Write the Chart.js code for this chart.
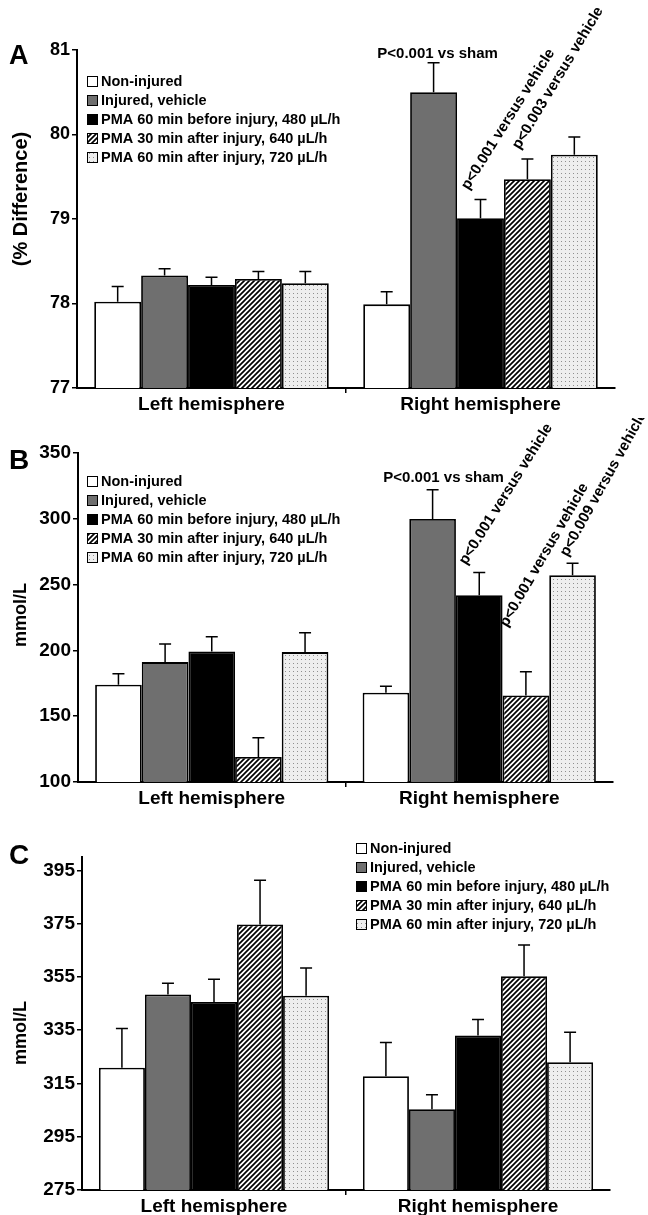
<!DOCTYPE html>
<html>
<head>
<meta charset="utf-8">
<script src="https://cdn.jsdelivr.net/npm/chart.js@4"></script>
<style>
  body { margin: 0; background: #fff; }
  #page { position: relative; width: 648px; height: 1215px; }
  .panel { position: absolute; left: 0; width: 648px; }
</style>
</head>
<body>
<div id="page">
  <div class="panel" style="top:0;height:418px"><canvas id="panelA"></canvas></div>
  <div class="panel" style="top:418px;height:400px"><canvas id="panelB"></canvas></div>
  <div class="panel" style="top:818px;height:397px"><canvas id="panelC"></canvas></div>
</div>
<script>
const HEMISPHERES = ["Left hemisphere", "Right hemisphere"];
const SERIES_LABELS = [
  "Non-injured",
  "Injured, vehicle",
  "PMA 60 min before injury, 480 µL/h",
  "PMA 30 min after injury, 640 µL/h",
  "PMA 60 min after injury, 720 µL/h",
];

// A: water content, % difference  [left, right]
const A_NON_INJURED = [78.02, 77.99];
const A_VEHICLE = [78.33, 80.5];
const A_PMA_BEFORE = [78.22, 79.01];
const A_PMA_30_AFTER = [78.29, 79.47];
const A_PMA_60_AFTER = [78.24, 79.76];
const A_SEM = [[0.18, 0.15], [0.08, 0.35], [0.09, 0.22], [0.09, 0.24], [0.14, 0.21]];
const A_TICKS = [77, 78, 79, 80, 81];

// B: mmol/L
const B_NON_INJURED = [173.9, 167.8];
const B_VEHICLE = [191.1, 299.8];
const B_PMA_BEFORE = [199.2, 241.9];
const B_PMA_30_AFTER = [119.0, 165.7];
const B_PMA_60_AFTER = [198.7, 257.1];
const B_SEM = [[8.4, 5.0], [13.7, 22.3], [11.2, 17.3], [14.7, 18.1], [14.8, 9.1]];
const B_TICKS = [100, 150, 200, 250, 300, 350];

// C: mmol/L
const C_NON_INJURED = [320.9, 317.7];
const C_VEHICLE = [348.4, 305.3];
const C_PMA_BEFORE = [345.6, 333.0];
const C_PMA_30_AFTER = [374.7, 355.2];
const C_PMA_60_AFTER = [347.9, 323.0];
const C_SEM = [[14.7, 12.7], [4.2, 5.5], [8.5, 6.0], [16.6, 11.8], [10.4, 11.2]];
const C_TICKS = [275, 295, 315, 335, 355, 375, 395];

const FONT = "'Liberation Sans', Arial, Helvetica, sans-serif";
Chart.defaults.font.family = FONT;
Chart.defaults.font.weight = "bold";
Chart.defaults.color = "#000";

function hatchPattern() {
  const c = document.createElement("canvas");
  c.width = 5;
  c.height = 5;
  const g = c.getContext("2d");
  g.fillStyle = "#fff";
  g.fillRect(0, 0, 5, 5);
  g.strokeStyle = "#000";
  g.lineWidth = 1.7;
  g.beginPath();
  g.moveTo(-1, 6);
  g.lineTo(6, -1);
  g.moveTo(-1, 1);
  g.lineTo(1, -1);
  g.moveTo(4, 6);
  g.lineTo(6, 4);
  g.stroke();
  return g.createPattern(c, "repeat");
}

function dotPattern() {
  const c = document.createElement("canvas");
  c.width = 4;
  c.height = 4;
  const g = c.getContext("2d");
  g.fillStyle = "#eeeeee";
  g.fillRect(0, 0, 4, 4);
  g.fillStyle = "#8f8f8f";
  g.fillRect(1, 1, 1, 1);
  return g.createPattern(c, "repeat");
}

const FILLS = ["#ffffff", "#6f6f6f", "#000000", hatchPattern(), dotPattern()];

const errorBars = {
  id: "errorBars",
  afterDatasetsDraw(chart) {
    const { ctx } = chart;
    const y = chart.scales.y;
    ctx.save();
    ctx.strokeStyle = "#000";
    ctx.lineWidth = 1.5;
    chart.data.datasets.forEach((ds, i) => {
      chart.getDatasetMeta(i).data.forEach((bar, j) => {
        const top = y.getPixelForValue(ds.data[j] + ds.sem[j]);
        ctx.beginPath();
        ctx.moveTo(bar.x, bar.y);
        ctx.lineTo(bar.x, top);
        ctx.moveTo(bar.x - 6, top);
        ctx.lineTo(bar.x + 6, top);
        ctx.stroke();
      });
    });
    ctx.restore();
  },
};

const panelText = {
  id: "panelText",
  afterDraw(chart, args, opts) {
    const { ctx } = chart;
    const y = chart.scales.y;
    ctx.save();
    ctx.fillStyle = "#000";

    // panel letter
    ctx.font = `bold ${opts.letterSize}px ${FONT}`;
    ctx.textAlign = "left";
    ctx.textBaseline = "alphabetic";
    ctx.fillText(opts.letter, opts.letterX, opts.letterY);

    // y title
    ctx.save();
    ctx.translate(21, opts.titleY);
    ctx.rotate(-Math.PI / 2);
    ctx.font = `bold ${opts.titleSize}px ${FONT}`;
    ctx.textAlign = "center";
    ctx.textBaseline = "middle";
    ctx.fillText(opts.title, 0, 0);
    ctx.restore();

    // legend
    ctx.font = `bold 14.5px ${FONT}`;
    ctx.textBaseline = "middle";
    chart.data.datasets.forEach((ds, i) => {
      const ry = opts.legendY + i * 19;
      ctx.fillStyle = ds.backgroundColor;
      ctx.fillRect(opts.legendX, ry - 5, 10, 10);
      ctx.strokeStyle = "#000";
      ctx.lineWidth = 1;
      ctx.strokeRect(opts.legendX + 0.5, ry - 4.5, 10, 10);
      ctx.fillStyle = "#000";
      ctx.fillText(ds.label, opts.legendX + 14, ry + 1);
    });

    // significance notes
    ctx.font = `bold 15px ${FONT}`;
    for (const note of opts.notes || []) {
      const ds = chart.data.datasets[note.ds];
      const bar = chart.getDatasetMeta(note.ds).data[note.cat];
      const top = y.getPixelForValue(ds.data[note.cat] + ds.sem[note.cat]);
      ctx.save();
      ctx.translate(bar.x + note.dx, top + note.dy);
      ctx.rotate((note.angle * Math.PI) / 180);
      ctx.textAlign = note.angle ? "left" : "center";
      ctx.textBaseline = "alphabetic";
      ctx.fillText(note.text, 0, 0);
      ctx.restore();
    }
    ctx.restore();
  },
};

function makePanel(id, cfg) {
  const datasets = cfg.series.map((values, i) => ({
    label: SERIES_LABELS[i],
    data: values,
    sem: cfg.sem[i],
    backgroundColor: FILLS[i],
    borderColor: "#000",
    borderWidth: 1.8,
    barPercentage: 1,
    categoryPercentage: 0.872,
  }));
  return new Chart(document.getElementById(id), {
    type: "bar",
    data: { labels: HEMISPHERES, datasets },
    options: {
      responsive: true,
      maintainAspectRatio: false,
      animation: false,
      layout: { padding: { top: cfg.top, right: cfg.right, left: 0, bottom: 0 } },
      scales: {
        x: {
          afterFit: (scale) => { scale.height = cfg.xHeight; },
          grid: {
            drawOnChartArea: false,
            tickLength: 5,
            lineWidth: 1.5,
            tickColor: (ctx) => (ctx.index === 1 ? "#000" : "rgba(0,0,0,0)"),
          },
          border: { color: "#000", width: 2 },
          ticks: { font: { size: 19, weight: "bold" }, padding: 0 },
        },
        y: {
          min: cfg.ticks[0],
          max: cfg.max,
          afterFit: (scale) => { scale.width = cfg.yWidth; },
          afterBuildTicks: (scale) => { scale.ticks = cfg.ticks.map((v) => ({ value: v })); },
          grid: { drawOnChartArea: false, tickLength: 5, lineWidth: 1.5, color: "#000" },
          border: { color: "#000", width: 2 },
          ticks: { font: { size: cfg.tickSize, weight: "bold" }, padding: 2 },
        },
      },
      plugins: {
        legend: { display: false },
        tooltip: { enabled: false },
        panelText: cfg.text,
      },
    },
    plugins: [errorBars, panelText],
  });
}

makePanel("panelA", {
  series: [A_NON_INJURED, A_VEHICLE, A_PMA_BEFORE, A_PMA_30_AFTER, A_PMA_60_AFTER],
  sem: A_SEM,
  ticks: A_TICKS,
  max: 81,
  top: 50,
  right: 33,
  yWidth: 77,
  xHeight: 30,
  tickSize: 18,
  text: {
    letter: "A", letterSize: 27, letterX: 9, letterY: 64,
    title: "(% Difference)", titleSize: 20, titleY: 199,
    legendX: 87, legendY: 81,
    notes: [
      { text: "P<0.001 vs sham", ds: 1, cat: 1, dx: 4, dy: -5, angle: 0 },
      { text: "p<0.001 versus vehicle", ds: 2, cat: 1, dx: -12, dy: -9, angle: -58 },
      { text: "p<0.003 versus vehicle", ds: 3, cat: 1, dx: -8, dy: -9, angle: -59 },
    ],
  },
});

makePanel("panelB", {
  series: [B_NON_INJURED, B_VEHICLE, B_PMA_BEFORE, B_PMA_30_AFTER, B_PMA_60_AFTER],
  sem: B_SEM,
  ticks: B_TICKS,
  max: 350,
  top: 35,
  right: 35,
  yWidth: 78,
  xHeight: 36,
  tickSize: 19,
  text: {
    letter: "B", letterSize: 28, letterX: 9, letterY: 51,
    title: "mmol/L", titleSize: 18, titleY: 197,
    legendX: 87, legendY: 63,
    notes: [
      { text: "P<0.001 vs sham", ds: 1, cat: 1, dx: 11, dy: -8, angle: 0 },
      { text: "p<0.001 versus vehicle", ds: 2, cat: 1, dx: -13, dy: -7, angle: -58 },
      { text: "p<0.001 versus vehicle", ds: 3, cat: 1, dx: -19, dy: -44, angle: -60 },
      { text: "p<0.009 versus vehicle", ds: 4, cat: 1, dx: -5, dy: -6, angle: -61 },
    ],
  },
});

makePanel("panelC", {
  series: [C_NON_INJURED, C_VEHICLE, C_PMA_BEFORE, C_PMA_30_AFTER, C_PMA_60_AFTER],
  sem: C_SEM,
  ticks: C_TICKS,
  max: 400,
  top: 39,
  right: 38,
  yWidth: 82,
  xHeight: 25,
  tickSize: 19,
  text: {
    letter: "C", letterSize: 28, letterX: 9, letterY: 46,
    title: "mmol/L", titleSize: 18, titleY: 215,
    legendX: 356, legendY: 30,
    notes: [],
  },
});
</script>
</body>
</html>
